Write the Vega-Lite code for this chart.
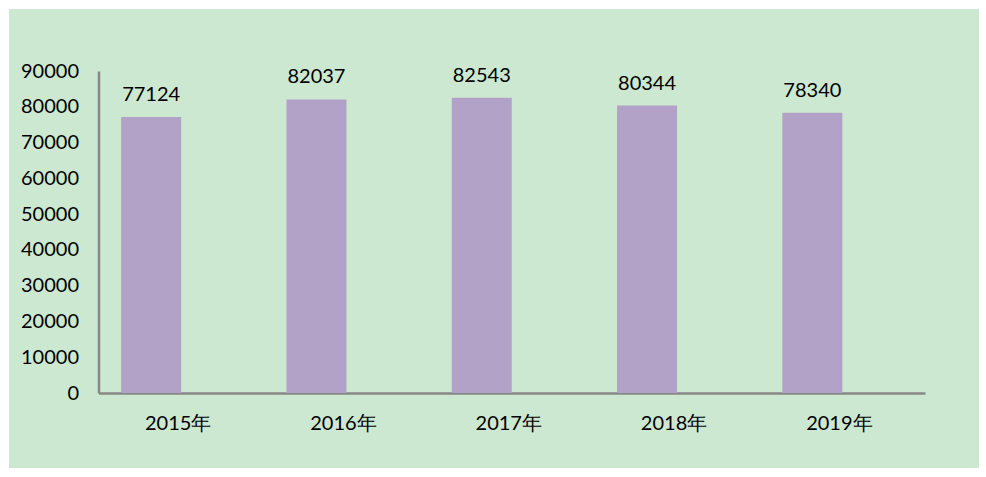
{
  "$schema": "https://vega.github.io/schema/vega-lite/v6.json",
  "width": 970,
  "height": 459,
  "autosize": {"type": "none"},
  "padding": {"left": 9, "top": 9, "right": 7, "bottom": 9},
  "background": "#ffffff",
  "config": {
    "view": {"fill": "#cde8d0", "stroke": null},
    "font": "Lato"
  },
  "data": {
    "values": [
      {"year": "2015年", "value": 77124},
      {"year": "2016年", "value": 82037},
      {"year": "2017年", "value": 82543},
      {"year": "2018年", "value": 80344},
      {"year": "2019年", "value": 78340}
    ]
  },
  "encoding": {
    "x": {
      "field": "year",
      "type": "nominal",
      "sort": null,
      "scale": {"range": [89.5, 916], "paddingInner": 0.637, "paddingOuter": 0.3185},
      "axis": {
        "title": null,
        "labelAngle": 0,
        "offset": -75,
        "ticks": false,
        "labelPadding": 20,
        "labelBaseline": "top",
        "labelFontSize": 20,
        "labelFont": "Lato",
        "labelColor": "#000000",
        "labelOffset": -3,
        "domainColor": "#878787",
        "domainWidth": 2.5,
        "grid": false
      }
    },
    "y": {
      "field": "value",
      "type": "quantitative",
      "scale": {"domain": [0, 90000], "range": [384, 62], "nice": false},
      "axis": {
        "title": null,
        "offset": -89.5,
        "values": [0, 10000, 20000, 30000, 40000, 50000, 60000, 70000, 80000, 90000],
        "format": "d",
        "ticks": false,
        "grid": false,
        "labelPadding": 20,
        "labelFontSize": 20,
        "labelFont": "Lato",
        "labelColor": "#000000",
        "domainColor": "#878787",
        "domainWidth": 2.5
      }
    }
  },
  "layer": [
    {
      "mark": {"type": "bar", "color": "#b3a2c7", "xOffset": -30}
    },
    {
      "mark": {"type": "text", "xOffset": -30, "dy": -16, "baseline": "alphabetic", "fontSize": 20, "font": "Lato", "color": "#000000"},
      "encoding": {"text": {"field": "value", "type": "quantitative", "format": "d"}}
    }
  ]
}
